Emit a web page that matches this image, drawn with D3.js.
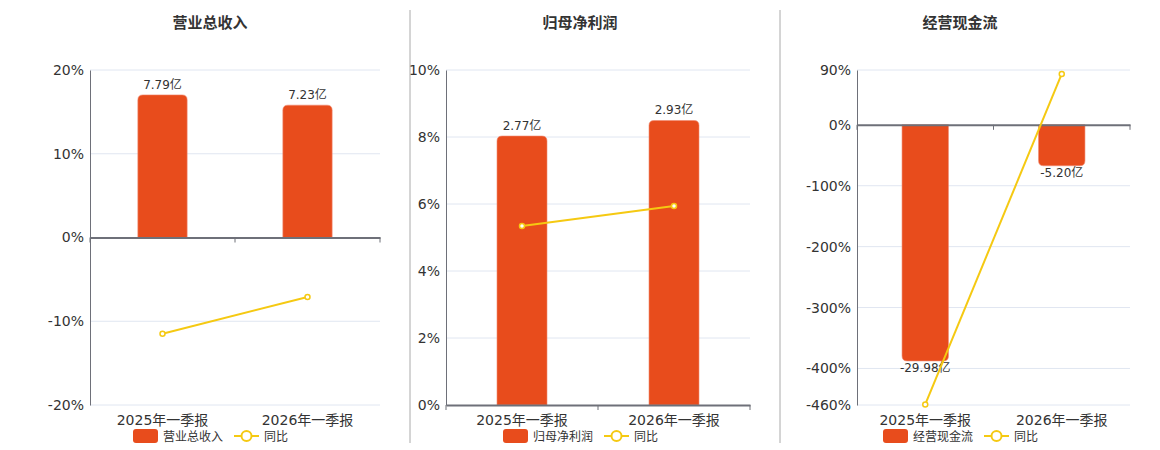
<!DOCTYPE html>
<html>
<head>
<meta charset="utf-8">
<script src="https://cdn.jsdelivr.net/npm/d3@7/dist/d3.min.js"></script>
<style>
  body { margin: 0; background: #fff; }
  svg { display: block; font-family: "DejaVu Sans", "Noto Sans CJK SC", sans-serif; }
</style>
</head>
<body>
<svg id="chart" width="1160" height="450"></svg>
<script>
// Three small panels: bar (亿) + yoy line (%), shared categories
const categories = ["2025年一季报", "2026年一季报"];

const revenue = [7.79, 7.23];
const revenueYoy = [-11.5, -7.1];
const revenueTicks = [20, 10, 0, -10, -20];

const netProfit = [2.77, 2.93];
const netProfitYoy = [5.34, 5.94];
const netProfitTicks = [10, 8, 6, 4, 2, 0];

const cashFlow = [-29.98, -5.2];
const cashFlowYoy = [-459, 83.6];
const cashFlowTicks = [90, 0, -100, -200, -300, -400, -460];

const barColor = "#e84c1c";
const lineColor = "#f5c912";
const axisColor = "#6e7079";
const gridColor = "#e0e6f1";
const textColor = "#333";

const svg = d3.select("#chart");

// dividers between panels
[410, 780].forEach((x) => {
  svg.append("line")
    .attr("x1", x).attr("x2", x).attr("y1", 10).attr("y2", 443)
    .attr("stroke", "#aaa").attr("stroke-width", 1);
});

function roundedBar(x, w, y0, y1, r) {
  // y0 = zero line, y1 = bar end; round the far end only
  const dir = y1 < y0 ? 1 : -1;
  const h = Math.abs(y1 - y0);
  r = Math.min(r, h / 2, w / 2);
  const p = d3.path();
  p.moveTo(x, y0);
  p.lineTo(x, y1 + dir * r);
  p.quadraticCurveTo(x, y1, x + r, y1);
  p.lineTo(x + w - r, y1);
  p.quadraticCurveTo(x + w, y1, x + w, y1 + dir * r);
  p.lineTo(x + w, y0);
  p.closePath();
  return p.toString();
}

function drawPanel(cfg) {
  const { title, center, x0, x1, bars, yoy, ticks, barMax, barName } = cfg;
  const top = 70, bottom = 405;
  const g = svg.append("g");

  const pctDomain = d3.extent(ticks);
  const y = d3.scaleLinear().domain(pctDomain).range([bottom, top]);
  // hidden bar axis, zero aligned with the % axis
  const k = barMax / pctDomain[1];
  const yBar = d3.scaleLinear().domain([pctDomain[0] * k, barMax]).range([bottom, top]);
  const x = d3.scaleBand().domain(categories).range([x0, x1]);
  const bw = Math.min(50, x.bandwidth() * 0.34);

  g.append("text")
    .attr("x", center).attr("y", 28)
    .attr("text-anchor", "middle")
    .attr("font-size", 15).attr("font-weight", "bold")
    .attr("fill", textColor)
    .text(title);

  // grid
  g.append("g").selectAll("line")
    .data(ticks.filter((t) => t !== 0))
    .join("line")
    .attr("x1", x0).attr("x2", x1)
    .attr("y1", (d) => y(d)).attr("y2", (d) => y(d))
    .attr("stroke", gridColor);

  // y axis
  const yAxis = g.append("g")
    .attr("transform", `translate(${x0},0)`)
    .call(d3.axisLeft(y).tickValues(ticks).tickSize(0).tickPadding(6).tickFormat((d) => d + "%"))
    .attr("font-family", null);
  yAxis.select(".domain").attr("stroke", axisColor);
  yAxis.selectAll("text").attr("font-size", 14).attr("fill", textColor);

  // bars
  g.append("g").selectAll("path")
    .data(bars)
    .join("path")
    .attr("d", (d, i) => roundedBar(x(categories[i]) + x.bandwidth() / 2 - bw / 2, bw, yBar(0), yBar(d), 5))
    .attr("fill", barColor)
    .attr("stroke", "#f08a70").attr("stroke-width", 0.6);

  g.append("g").selectAll("text")
    .data(bars)
    .join("text")
    .attr("x", (d, i) => x(categories[i]) + x.bandwidth() / 2)
    .attr("y", (d) => (d >= 0 ? yBar(d) - 6 : yBar(d) + 11))
    .attr("text-anchor", "middle")
    .attr("font-size", 12).attr("fill", textColor)
    .text((d) => d.toFixed(2) + "亿");

  // zero axis with category ticks
  const xAxis = g.append("g")
    .attr("transform", `translate(0,${y(0)})`)
    .call(d3.axisBottom(x).tickSize(0).tickFormat(""));
  xAxis.select(".domain").attr("stroke", axisColor).attr("stroke-width", 2);
  g.append("g").selectAll("line")
    .data([x0, ...categories.slice(1).map((c) => x(c)), x1])
    .join("line")
    .attr("x1", (d) => d).attr("x2", (d) => d)
    .attr("y1", y(0)).attr("y2", y(0) + 5)
    .attr("stroke", axisColor);

  // category labels at the bottom
  g.append("g").selectAll("text")
    .data(categories)
    .join("text")
    .attr("x", (d) => x(d) + x.bandwidth() / 2)
    .attr("y", 425)
    .attr("text-anchor", "middle")
    .attr("font-size", 14).attr("fill", textColor)
    .text((d) => d);

  // yoy line
  const line = d3.line()
    .x((d, i) => x(categories[i]) + x.bandwidth() / 2)
    .y((d) => y(d));
  g.append("path")
    .datum(yoy)
    .attr("d", line)
    .attr("fill", "none")
    .attr("stroke", lineColor).attr("stroke-width", 2);
  g.append("g").selectAll("circle")
    .data(yoy)
    .join("circle")
    .attr("cx", (d, i) => x(categories[i]) + x.bandwidth() / 2)
    .attr("cy", (d) => y(d))
    .attr("r", 2.5)
    .attr("fill", "#fff")
    .attr("stroke", lineColor).attr("stroke-width", 1.5);

  // legend
  const lx = center - 77, ly = 436;
  g.append("rect")
    .attr("x", lx).attr("y", ly - 7).attr("width", 25).attr("height", 14).attr("rx", 3)
    .attr("fill", barColor);
  g.append("text")
    .attr("x", lx + 30).attr("y", ly + 4.5)
    .attr("font-size", 12).attr("fill", textColor)
    .text(barName);
  g.append("line")
    .attr("x1", lx + 101).attr("x2", lx + 126).attr("y1", ly).attr("y2", ly)
    .attr("stroke", lineColor).attr("stroke-width", 2);
  g.append("circle")
    .attr("cx", lx + 113.5).attr("cy", ly).attr("r", 5)
    .attr("fill", "#fff").attr("stroke", lineColor).attr("stroke-width", 2);
  g.append("text")
    .attr("x", lx + 131).attr("y", ly + 4.5)
    .attr("font-size", 12).attr("fill", textColor)
    .text("同比");
}

drawPanel({ title: "营业总收入", barName: "营业总收入", center: 210, x0: 90, x1: 380,
  bars: revenue, yoy: revenueYoy, ticks: revenueTicks, barMax: 9.15 });
drawPanel({ title: "归母净利润", barName: "归母净利润", center: 580, x0: 446, x1: 750,
  bars: netProfit, yoy: netProfitYoy, ticks: netProfitTicks, barMax: 3.45 });
drawPanel({ title: "经营现金流", barName: "经营现金流", center: 960, x0: 857, x1: 1130,
  bars: cashFlow, yoy: cashFlowYoy, ticks: cashFlowTicks, barMax: 6.96 });
</script>
</body>
</html>
